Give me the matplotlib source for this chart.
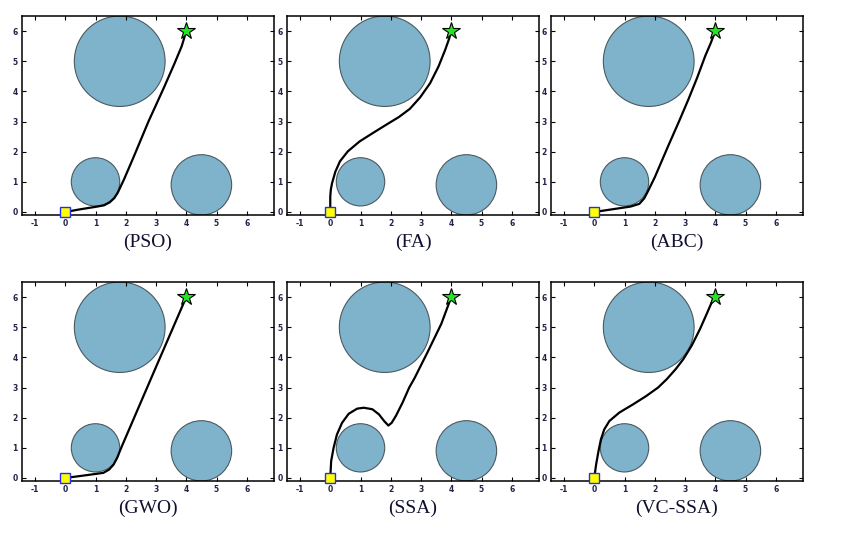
import matplotlib
matplotlib.use("Agg")
import matplotlib.pyplot as plt
from matplotlib.patches import Circle

plt.rcParams["axes.unicode_minus"] = False

# Obstacles: (cx, cy, r)
obstacles_x = [1.8, 1.0, 4.5]
obstacles_y = [5.0, 1.0, 0.9]
obstacles_r = [1.5, 0.8, 1.0]

start = (0.0, 0.0)
goal = (4.0, 6.0)

titles = ["(PSO)", "(FA)", "(ABC)", "(GWO)", "(SSA)", "(VC-SSA)"]

pso_x = [0, 0.5, 1.0, 1.28, 1.47, 1.62, 1.73, 1.82, 1.95, 2.25, 2.75, 3.25, 3.6, 3.85, 4.0]
pso_y = [0, 0.09, 0.17, 0.22, 0.32, 0.46, 0.63, 0.82, 1.1, 1.8, 3.0, 4.1, 4.9, 5.5, 6.0]

fa_x = [0, 0.0, 0.02, 0.06, 0.17, 0.32, 0.58, 0.97, 1.41, 1.86, 2.27, 2.63, 2.97, 3.3, 3.58, 3.8, 3.93, 4.0]
fa_y = [0, 0.51, 0.75, 0.96, 1.34, 1.68, 2.01, 2.34, 2.62, 2.9, 3.15, 3.42, 3.8, 4.27, 4.83, 5.38, 5.75, 6.0]

abc_x = [0, 0.6, 1.2, 1.49, 1.65, 1.77, 2.0, 2.44, 2.8, 3.11, 3.4, 3.67, 3.85, 4.0]
abc_y = [0, 0.09, 0.18, 0.27, 0.45, 0.68, 1.15, 2.18, 3.0, 3.73, 4.45, 5.18, 5.6, 6.0]

gwo_x = [0, 0.6, 1.26, 1.45, 1.6, 1.72, 1.8, 1.9, 2.9, 4.0]
gwo_y = [0, 0.08, 0.17, 0.28, 0.45, 0.68, 0.88, 1.12, 3.45, 6.0]

ssa_x = [0, 0.03, 0.11, 0.22, 0.39, 0.61, 0.89, 1.11, 1.39, 1.61, 1.78, 1.92, 2.03, 2.17, 2.39, 2.61, 2.78, 3.22, 3.67, 4.0]
ssa_y = [0, 0.56, 1.0, 1.44, 1.83, 2.13, 2.3, 2.33, 2.28, 2.11, 1.89, 1.74, 1.83, 2.06, 2.5, 3.0, 3.3, 4.18, 5.11, 6.0]

vc_x = [0, 0.06, 0.14, 0.22, 0.33, 0.5, 0.83, 1.28, 1.72, 2.11, 2.4, 2.7, 2.95, 3.22, 3.5, 3.72, 3.91, 4.0]
vc_y = [0, 0.44, 0.89, 1.28, 1.61, 1.89, 2.17, 2.44, 2.72, 3.0, 3.28, 3.62, 3.95, 4.39, 4.95, 5.45, 5.89, 6.0]

paths = [(pso_x, pso_y), (fa_x, fa_y), (abc_x, abc_y),
         (gwo_x, gwo_y), (ssa_x, ssa_y), (vc_x, vc_y)]

xticks = [-1, 0, 1, 2, 3, 4, 5, 6]
yticks = [0, 1, 2, 3, 4, 5, 6]

W, H = 841, 535
fig = plt.figure(figsize=(W / 100, H / 100), dpi=100)

col_left = [22, 287, 551]
col_w = 252
row_top = [16, 282]
row_h = 199

for i, (title, (px, py)) in enumerate(zip(titles, paths)):
    r, c = divmod(i, 3)
    left = col_left[c] / W
    bottom = 1 - (row_top[r] + row_h) / H
    ax = fig.add_axes([left, bottom, col_w / W, row_h / H])
    ax.set_xlim(-1.43, 6.9)
    ax.set_ylim(-0.1, 6.5)
    for cx, cy, rr in zip(obstacles_x, obstacles_y, obstacles_r):
        ax.add_patch(Circle((cx, cy), rr, facecolor="#7fb3cb", edgecolor="#4a5a60",
                            linewidth=0.8, zorder=1))
    ax.plot(px, py, color="black", lw=1.6, zorder=3, solid_joinstyle="round")
    ax.plot(start[0], start[1], marker="s", ms=6.5, mfc="#ffff00", mec="#1f2fff",
            mew=1.0, zorder=4, clip_on=False)
    ax.plot(goal[0], goal[1], marker="*", ms=13, mfc="#22e622", mec="black",
            mew=0.8, zorder=4)
    ax.set_xticks(xticks)
    ax.set_yticks(yticks)
    ax.tick_params(direction="in", length=3, width=0.8, top=True, right=True,
                   labelsize=5.5, labelcolor="#23234a", pad=3)
    for lab in ax.get_xticklabels() + ax.get_yticklabels():
        lab.set_fontweight("bold")
    for sp in ax.spines.values():
        sp.set_linewidth(1.1)
    ax.text(0.5, -0.135, title, transform=ax.transAxes, ha="center", va="center",
            fontsize=14, family="Liberation Serif", color="#101030")

fig.savefig("out.png", dpi=100)
